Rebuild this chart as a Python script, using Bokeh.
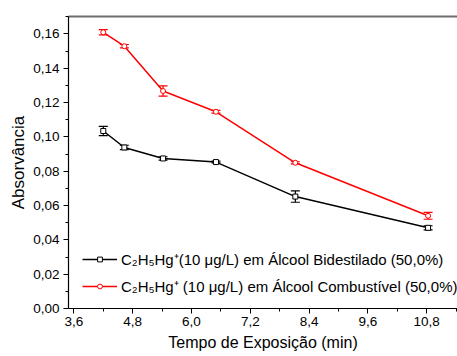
from bokeh.plotting import figure
from bokeh.models import (ColumnDataSource, Whisker, TeeHead, FixedTicker, Legend,
                          LegendItem, LinearAxis, Range1d, Title)
from bokeh.embed import file_html
from bokeh.resources import INLINE

# data
tempo = [4.2, 4.63, 5.42, 6.5, 8.12, 10.83]
bidestilado = [0.1034, 0.0938, 0.0874, 0.0853, 0.0652, 0.0470]
bidestilado_err = [0.0027, 0.0013, 0.0010, 0.0005, 0.0033, 0.0012]
combustivel = [0.1609, 0.1528, 0.1267, 0.1146, 0.0849, 0.0540]
combustivel_err = [0.0015, 0.0010, 0.0030, 0.0008, 0.0006, 0.0020]

x_ticks = [3.6, 4.8, 6.0, 7.2, 8.4, 9.6, 10.8]
x_tick_labels = ["3,6", "4,8", "6,0", "7,2", "8,4", "9,6", "10,8"]
y_ticks = [0.0, 0.02, 0.04, 0.06, 0.08, 0.10, 0.12, 0.14, 0.16]
y_tick_labels = ["0,00", "0,02", "0,04", "0,06", "0,08", "0,10", "0,12", "0,14", "0,16"]

x_title = "Tempo de Exposi\u00E7\u00E3o (min)"
y_title = "Absorv\u00E2ncia"
label_bid = "C\u2082H\u2085Hg\u207A(10 \u03BCg/L) em \u00C1lcool Bidestilado (50,0%)"
label_comb = "C\u2082H\u2085Hg\u207A (10 \u03BCg/L) em \u00C1lcool Combust\u00EDvel (50,0%)"

FONT = "Liberation Sans"

p = figure(width=457, height=356, output_backend="svg", toolbar_location=None,
           x_range=Range1d(3.49, 11.43), y_range=Range1d(0.0, 0.1701),
           min_border_left=68, min_border_right=0, min_border_top=16, min_border_bottom=48)
p.outline_line_color = None
p.xgrid.visible = False
p.ygrid.visible = False
p.background_fill_color = "white"

def src(y, e):
    return ColumnDataSource(dict(x=tempo, y=y,
                                 lo=[a - b for a, b in zip(y, e)],
                                 hi=[a + b for a, b in zip(y, e)]))

s_bid = src(bidestilado, bidestilado_err)
s_comb = src(combustivel, combustivel_err)

for s, c in ((s_bid, "black"), (s_comb, "red")):
    w = Whisker(source=s, base="x", lower="lo", upper="hi", line_color=c, line_width=1.2,
                lower_head=TeeHead(size=9, line_color=c, line_width=1.2),
                upper_head=TeeHead(size=9, line_color=c, line_width=1.2))
    p.add_layout(w)

l1 = p.line("x", "y", source=s_bid, line_color="black", line_width=1.5)
m1 = p.scatter("x", "y", source=s_bid, marker="square", size=5, line_color="black",
               fill_color="white", line_width=1)
l2 = p.line("x", "y", source=s_comb, line_color="red", line_width=1.5)
m2 = p.scatter("x", "y", source=s_comb, marker="circle", size=5, line_color="red",
               fill_color="white", line_width=1)

# axes
for ax in (p.xaxis[0], p.yaxis[0]):
    ax.axis_line_color = "black"
    ax.axis_line_width = 1.2
    ax.major_tick_line_color = "black"
    ax.minor_tick_line_color = "black"
    ax.major_tick_out = 5
    ax.major_tick_in = 0
    ax.minor_tick_out = 3
    ax.minor_tick_in = 0
    ax.major_label_text_font = FONT
    ax.major_label_text_font_size = "13.5px"
    ax.major_label_text_color = "black"
    ax.axis_label_text_font = FONT
    ax.axis_label_text_font_size = "16px"
    ax.axis_label_text_font_style = "normal"
    ax.axis_label_text_color = "black"

p.xaxis[0].ticker = FixedTicker(ticks=x_ticks,
                                minor_ticks=[3.6 + 0.6 * i for i in range(15)])
p.xaxis[0].major_label_overrides = dict(zip(x_ticks, x_tick_labels))
p.xaxis[0].major_label_standoff = 3

p.add_layout(Title(text=x_title, align="center", text_font=FONT, text_font_size="16px",
                   text_font_style="normal", text_color="black", standoff=6), "below")

p.yaxis[0].ticker = FixedTicker(ticks=y_ticks,
                                minor_ticks=[0.01 * i for i in range(18)])
p.yaxis[0].major_label_overrides = dict(zip(y_ticks, y_tick_labels))
p.yaxis[0].axis_label = y_title
p.yaxis[0].axis_label_text_font_size = "17px"
p.yaxis[0].axis_label_standoff = 2
p.yaxis[0].major_label_standoff = 4

top = LinearAxis(ticker=FixedTicker(ticks=[]), major_tick_line_color=None,
                 minor_tick_line_color=None, axis_line_color="#6e6e6e",
                 axis_line_width=2)
p.add_layout(top, "above")

legend = Legend(items=[LegendItem(label=label_bid, renderers=[l1, m1]),
                       LegendItem(label=label_comb, renderers=[l2, m2])],
                location=(14, 12), border_line_color=None, background_fill_alpha=0,
                padding=0, margin=0, spacing=7, glyph_width=35, glyph_height=12,
                label_height=20, label_standoff=4, label_text_font=FONT,
                label_text_font_size="15px", label_text_color="black")
p.add_layout(legend, "center")

open("out.html", "w").write(file_html(p, INLINE))
